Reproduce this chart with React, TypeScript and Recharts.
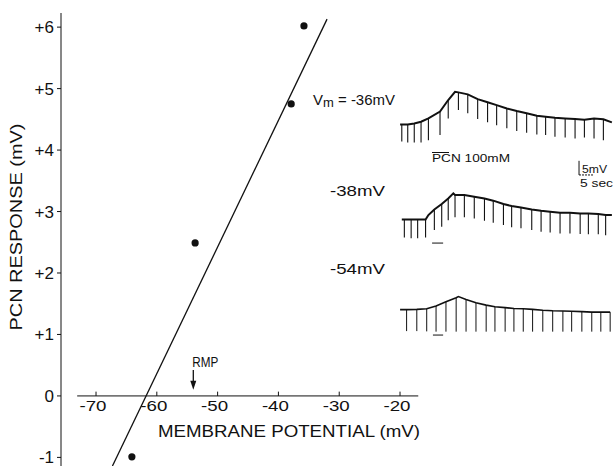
import React from "react";
import {
  ComposedChart,
  LineChart,
  Line,
  Scatter,
  XAxis,
  YAxis,
  ReferenceLine,
  ReferenceDot,
  Customized,
} from "recharts";

// response amplitude vs membrane potential (filled dots)
const membranePotential = [-64.1, -53.7, -37.9, -35.8];
const pcnResponse = [-0.99, 2.49, 4.75, 6.02];

// regression line end points
const fitPotential = [-67.3, -32.0];
const fitResponse = [-1.14, 6.13];

const xTicks = [-70, -60, -50, -40, -30, -20];
const yTicks = [-1, 0, 1, 2, 3, 4, 5, 6];
const restingPotential = -54;

// recordings: time (s), envelope level (mV), spike tip (mV, null = no spike)
const trace36Time = [1.8, 2.4, 4.5, 6.8, 9.2, 11.8, 15.9, 18.8, 21.2, 22.4, 25.7, 29.2, 32.7, 35.9, 39.5, 43.0, 46.5, 50.1, 53.2, 56.5, 60.1, 63.6, 66.9, 70.3, 73.6, 76.6];
const trace36Level = [0, 0, 0, 0.4, 1.0, 2.2, 4.6, 8.7, 11.6, 11.4, 10.7, 9.0, 7.9, 6.9, 5.7, 4.8, 4.0, 3.1, 2.8, 2.4, 2.2, 2.0, 1.7, 2.2, 1.9, 0.8];
const trace36Tip = [null, -6.0, -6.3, -6.3, -6.3, -5.5, -3.7, 2.2, null, 5.2, 4.0, 2.0, 0.8, -0.2, -1.3, -2.3, -2.9, -3.5, -3.7, -4.3, -4.6, -4.9, -4.6, -4.9, -5.5, null];

const trace38Time = [2.4, 3.3, 5.7, 8.0, 10.8, 11.8, 13.9, 16.5, 18.8, 20.6, 21.2, 24.5, 28.0, 31.6, 34.7, 38.3, 41.2, 44.5, 48.3, 51.6, 54.8, 58.3, 61.8, 65.4, 68.3, 71.8, 74.4, 76.6];
const trace38Level = [0, 0, 0, 0, 0, 1.6, 3.6, 5.5, 7.5, 9.3, 8.7, 8.7, 8.1, 7.5, 6.7, 5.5, 4.8, 4.3, 3.6, 3.1, 2.8, 2.4, 2.4, 2.2, 2.2, 2.0, 1.6, 1.6];
const trace38Tip = [null, -6.3, -6.6, -6.6, -6.3, null, -3.7, -2.5, -0.2, null, 0.8, 0.8, 0.4, -0.4, -1.1, -1.9, -2.7, -3.1, -3.7, -4.3, -4.6, -4.9, -4.9, -5.1, -5.2, -5.2, -5.5, null];

const trace54Time = [1.8, 4.1, 7.7, 11.2, 14.5, 18.0, 21.6, 22.4, 25.1, 28.6, 32.2, 35.3, 38.9, 42.0, 45.3, 48.6, 52.2, 55.7, 59.3, 62.4, 66.0, 69.5, 72.7, 76.0];
const trace54Level = [0, 0, 0.1, 0.3, 1.3, 2.8, 4.2, 4.6, 3.6, 2.4, 1.6, 1.0, 0.7, 0.4, 0.3, 0.1, -0.2, -0.4, -0.5, -0.6, -0.7, -0.9, -0.9, -0.9];
const trace54Tip = [null, -7.6, -7.6, -7.7, -7.8, -7.8, -7.8, null, -7.8, -7.8, -7.8, -7.8, -7.8, -7.8, -7.8, -7.8, -7.8, -7.8, -7.8, -7.8, -7.8, -7.8, -7.8, -7.8];

const INK = "#111";
const FONT = "'Liberation Sans', Arial, sans-serif";

const envelope = (time: number[], level: number[]) =>
  time.map((t, i) => ({ t, v: level[i] }));

const spikes = (time: number[], level: number[], tip: (number | null)[]) => {
  const out: { t: number; v: number | null }[] = [];
  time.forEach((t, i) => {
    if (tip[i] === null) return;
    out.push({ t, v: level[i] }, { t, v: tip[i] }, { t, v: null });
  });
  return out;
};

const textAt = (
  value: string,
  dx: number,
  dy: number,
  size: number,
  length?: number,
  anchor: "start" | "middle" = "start"
) => ({
  content: ({ viewBox }: any) => (
    <text
      x={viewBox.x + dx}
      y={viewBox.y + dy}
      fontSize={size}
      fontFamily={FONT}
      fill={INK}
      textAnchor={anchor}
      textLength={length}
      lengthAdjust="spacingAndGlyphs"
    >
      {value}
    </text>
  ),
});

const Annotations = () => (
  <g fontFamily={FONT} fill={INK}>
    <text x={158} y={437} fontSize={16} textLength={262} lengthAdjust="spacingAndGlyphs">
      MEMBRANE POTENTIAL (mV)
    </text>
    <text x={313} y={105} fontSize={15} textLength={82} lengthAdjust="spacingAndGlyphs">
      V<tspan fontSize={13} dy={2}>m</tspan>
      <tspan dy={-2}> = -36mV</tspan>
    </text>
    <text x={330} y={196} fontSize={15} textLength={55} lengthAdjust="spacingAndGlyphs">
      -38mV
    </text>
    <text x={330} y={274} fontSize={15} textLength={55} lengthAdjust="spacingAndGlyphs">
      -54mV
    </text>
    <text x={432} y={162} fontSize={10.5} textLength={78} lengthAdjust="spacingAndGlyphs">
      PCN 100mM
    </text>
    <line x1={432} x2={449} y1={152.5} y2={152.5} stroke={INK} strokeWidth={1} />
    <text x={582} y={173} fontSize={11} textLength={25} lengthAdjust="spacingAndGlyphs">
      5mV
    </text>
    <text x={580} y={187} fontSize={11} textLength={33} lengthAdjust="spacingAndGlyphs">
      5 sec
    </text>
  </g>
);

export default function App() {
  const dots = membranePotential.map((x, i) => ({ x, y: pcnResponse[i] }));
  const fit = fitPotential.map((x, i) => ({ x, y: fitResponse[i] }));

  return (
    <div style={{ position: "absolute", left: 0, top: 0, width: 613, height: 466, background: "#fff" }}>
      <ComposedChart width={613} height={466} margin={{ top: 13, right: 0, bottom: 0, left: 0 }}>
        <XAxis dataKey="x" type="number" domain={[-75.76, 15.03]} allowDataOverflow hide />
        <YAxis
          type="number"
          domain={[-1.14, 6.23]}
          allowDataOverflow
          ticks={yTicks}
          interval={0}
          width={61}
          tickSize={4}
          tickMargin={3}
          stroke={INK}
          tick={{ fill: INK, fontSize: 17, fontFamily: FONT }}
          tickFormatter={(v: number) => (v > 0 ? `+${v}` : `${v}`)}
          label={{
            content: () => (
              <text
                transform="translate(22 227) rotate(-90)"
                textAnchor="middle"
                fontSize={16}
                fontFamily={FONT}
                fill={INK}
                textLength={207}
                lengthAdjust="spacingAndGlyphs"
              >
                PCN RESPONSE (mV)
              </text>
            ),
          }}
        />

        {/* x axis drawn through zero */}
        <ReferenceLine segment={[{ x: -73.1, y: 0 }, { x: -17, y: 0 }]} stroke={INK} strokeWidth={1} />
        {xTicks.map((t) => (
          <ReferenceLine key={`xt${t}`} segment={[{ x: t, y: 0 }, { x: t, y: 0.07 }]} stroke={INK} />
        ))}
        {xTicks.map((t) => (
          <ReferenceDot
            key={`xl${t}`}
            x={t}
            y={0}
            r={0}
            fill="none"
            stroke="none"
            label={textAt(`${t}`, -3, 15, 14.5, 27, "middle")}
          />
        ))}

        {/* resting membrane potential marker */}
        <ReferenceLine
          segment={[{ x: restingPotential, y: 0.42 }, { x: restingPotential, y: 0.2 }]}
          stroke={INK}
          strokeWidth={1.3}
        />
        <ReferenceDot
          x={restingPotential}
          y={0.1}
          r={0}
          shape={(p: any) => (
            <path d={`M${p.cx - 3},${p.cy - 9} L${p.cx + 3},${p.cy - 9} L${p.cx},${p.cy} Z`} fill={INK} />
          )}
        />
        <ReferenceDot
          x={restingPotential}
          y={0.42}
          r={0}
          fill="none"
          stroke="none"
          label={textAt("RMP", -1, -3, 15, 26)}
        />

        <Line
          data={fit}
          dataKey="y"
          type="linear"
          stroke={INK}
          strokeWidth={1.3}
          dot={false}
          isAnimationActive={false}
        />
        <Scatter
          data={dots}
          dataKey="y"
          fill={INK}
          shape={(p: any) => <circle cx={p.cx} cy={p.cy} r={3.6} fill={INK} />}
          isAnimationActive={false}
        />
        <Customized component={Annotations} />
      </ComposedChart>

      <div style={{ position: "absolute", left: 395, top: 80 }}>
        <LineChart width={218} height={260} margin={{ top: 0, right: 0, bottom: 0, left: 0 }}>
          <XAxis xAxisId="t" dataKey="t" type="number" domain={[0, 77]} allowDataOverflow hide />
          <YAxis yAxisId="a" type="number" domain={[-76.2, 15.78]} allowDataOverflow hide />
          <YAxis yAxisId="b" type="number" domain={[-42.6, 49.4]} allowDataOverflow hide />
          <YAxis yAxisId="c" type="number" domain={[-10.75, 81.25]} allowDataOverflow hide />

          <Line xAxisId="t" yAxisId="a" data={envelope(trace36Time, trace36Level)} dataKey="v" stroke={INK} strokeWidth={2} dot={false} isAnimationActive={false} />
          <Line xAxisId="t" yAxisId="a" data={spikes(trace36Time, trace36Level, trace36Tip)} dataKey="v" stroke={INK} strokeWidth={1.1} dot={false} isAnimationActive={false} />

          <Line xAxisId="t" yAxisId="b" data={envelope(trace38Time, trace38Level)} dataKey="v" stroke={INK} strokeWidth={2} dot={false} isAnimationActive={false} />
          <Line xAxisId="t" yAxisId="b" data={spikes(trace38Time, trace38Level, trace38Tip)} dataKey="v" stroke={INK} strokeWidth={1.1} dot={false} isAnimationActive={false} />

          <Line xAxisId="t" yAxisId="c" data={envelope(trace54Time, trace54Level)} dataKey="v" stroke={INK} strokeWidth={1.6} dot={false} isAnimationActive={false} />
          <Line xAxisId="t" yAxisId="c" data={spikes(trace54Time, trace54Level, trace54Tip)} dataKey="v" stroke={INK} strokeWidth={1} dot={false} isAnimationActive={false} />

          {/* PCN application bars */}
          <ReferenceLine xAxisId="t" yAxisId="b" segment={[{ x: 13.1, y: -8.3 }, { x: 17, y: -8.3 }]} stroke={INK} />
          <ReferenceLine xAxisId="t" yAxisId="c" segment={[{ x: 13.4, y: -9.0 }, { x: 17, y: -9.0 }]} stroke={INK} />

          {/* calibration: 5 mV / 5 sec */}
          <ReferenceLine xAxisId="t" yAxisId="b" segment={[{ x: 65, y: 15.8 }, { x: 65, y: 20.8 }]} stroke={INK} />
          <ReferenceLine xAxisId="t" yAxisId="b" segment={[{ x: 65, y: 15.8 }, { x: 70, y: 15.8 }]} stroke={INK} strokeDasharray="2 1" />
        </LineChart>
      </div>
    </div>
  );
}
